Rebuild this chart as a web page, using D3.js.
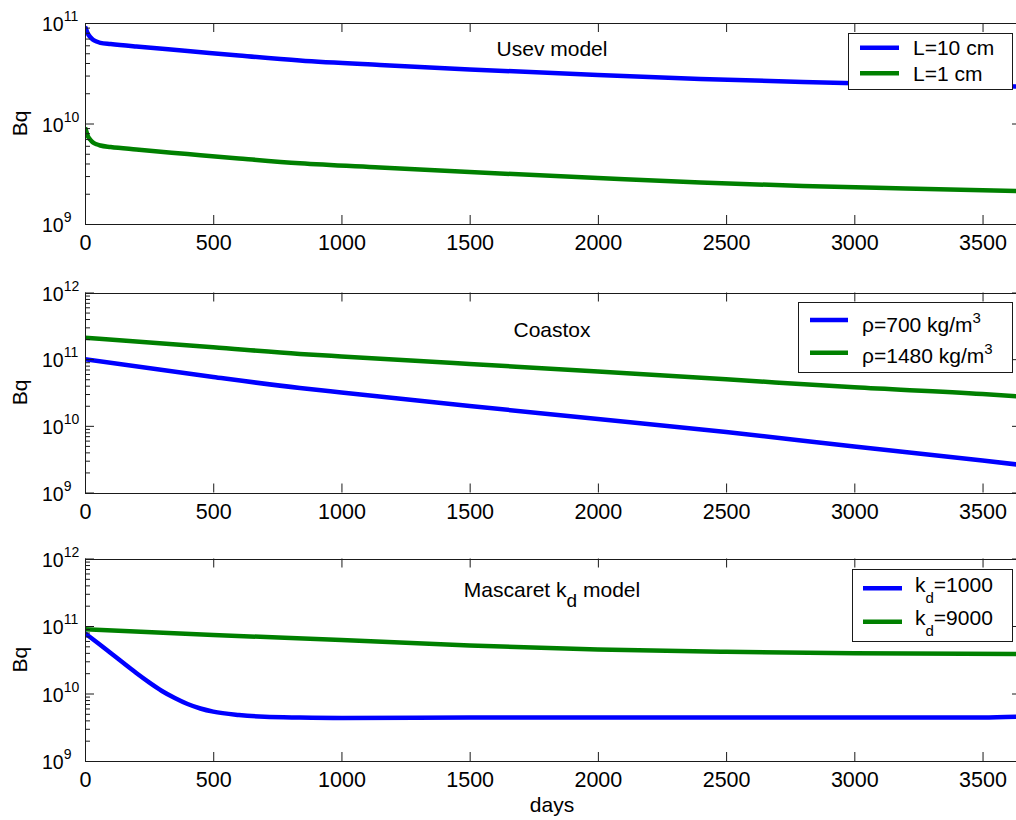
<!DOCTYPE html>
<html><head><meta charset="utf-8">
<script src="https://cdn.jsdelivr.net/npm/d3@7"></script>
<style>
html,body{margin:0;padding:0;background:#fff;overflow:hidden}
svg{display:block;font-family:Arial,"Liberation Sans",Helvetica,sans-serif}
</style></head><body>
<svg id="chart" width="1016" height="820"></svg>
<script>
// ---------------- data ----------------
const xTickValues = [0, 500, 1000, 1500, 2000, 2500, 3000, 3500];
const xLabel = "days";
const yLabel = "Bq";

// Panel 1: Usev model
const usevDays = [0, 5, 10, 20, 30, 45, 60, 100, 200, 400, 600, 838, 1150, 1500, 2000, 2400, 2800, 3200, 3650];
const usevL10 = [9.2e10, 8.6e10, 7.95e10, 7.26e10, 6.85e10, 6.54e10, 6.35e10, 6.18e10, 5.83e10, 5.27e10, 4.75e10, 4.24e10, 3.82e10, 3.45e10, 3.04e10, 2.77e10, 2.59e10, 2.45e10, 2.33e10];
const usevL1 = [9.1e9, 8.4e9, 7.6e9, 6.93e9, 6.5e9, 6.21e9, 6.04e9, 5.84e9, 5.51e9, 4.97e9, 4.49e9, 4.02e9, 3.65e9, 3.29e9, 2.87e9, 2.59e9, 2.39e9, 2.26e9, 2.13e9];
const usevLabels = ["L=10 cm", "L=1 cm"];

// Panel 2: Coastox
const coastoxDays = [0, 500, 838, 1000, 1500, 2000, 2500, 3000, 3500, 3650];
const coastoxRho700 = [1.0e11, 5.4e10, 3.69e10, 3.16e10, 1.98e10, 1.27e10, 8.08e9, 4.9e9, 3.02e9, 2.59e9];
const coastoxRho1480 = [2.1e11, 1.51e11, 1.2e11, 1.1e11, 8.46e10, 6.53e10, 4.99e10, 3.78e10, 3.0e10, 2.74e10];
const coastoxLabels = ["\u03c1=700 kg/m^3", "\u03c1=1480 kg/m^3"];

// Panel 3: Mascaret kd model
const mascaretDaysKd1000 = [0, 50, 100, 150, 200, 250, 300, 350, 400, 450, 500, 600, 700, 838, 1000, 1500, 2000, 2500, 3000, 3500, 3650];
const mascaretKd1000 = [7.8e10, 5.6e10, 3.98e10, 2.83e10, 2.01e10, 1.46e10, 1.09e10, 8.58e9, 6.99e9, 6.0e9, 5.38e9, 4.8e9, 4.52e9, 4.41e9, 4.35e9, 4.4e9, 4.42e9, 4.4e9, 4.42e9, 4.4e9, 4.55e9];
const mascaretDaysKd9000 = [0, 500, 1000, 1500, 2000, 2500, 3000, 3650];
const mascaretKd9000 = [8.94e10, 7.36e10, 6.2e10, 5.14e10, 4.49e10, 4.15e10, 3.94e10, 3.85e10];
const mascaretLabels = ["k_d=1000", "k_d=9000"];

const panelTitles = ["Usev model", "Coastox", "Mascaret k_d model"];
const seriesColors = ["#0000ff", "#008000"];

// ---------------- layout ----------------
const panels = [
  { top: 23, bottom: 224, yMax: 1e11, title: panelTitles[0], titleY: 56,
    series: [[usevDays, usevL10], [usevDays, usevL1]], labels: usevLabels,
    legend: { x0: 848, x1: 1012, y0: 33, y1: 89, lx0: 860, lx1: 899, ly: [47.7, 73.3], tx: 913, ty: [55, 81] } },
  { top: 292.5, bottom: 492.5, yMax: 1e12, title: panelTitles[1], titleY: 336.7,
    series: [[coastoxDays, coastoxRho700], [coastoxDays, coastoxRho1480]], labels: coastoxLabels,
    legend: { x0: 798, x1: 1012, y0: 302, y1: 372, lx0: 810, lx1: 848, ly: [320, 352.7], tx: 862, ty: [331.7, 363.3] } },
  { top: 558.5, bottom: 761, yMax: 1e12, title: panelTitles[2], titleY: 597,
    series: [[mascaretDaysKd1000, mascaretKd1000], [mascaretDaysKd9000, mascaretKd9000]], labels: mascaretLabels,
    legend: { x0: 852, x1: 1012, y0: 569, y1: 641, lx0: 863, lx1: 902, ly: [588.3, 621.7], tx: 915, ty: [592.3, 625] } }
];

const plotLeft = 85, plotRight = 1021;
const axisColor = "#1a1a1a";
const svg = d3.select("#chart");

// rich text: "^x" superscript, "_x" subscript (single char)
function richText(sel, str, size, smallSize, supShift, subShift) {
  let pendingShift = 0;
  let buf = "";
  const flush = () => {
    if (!buf) return;
    const t = sel.append("tspan").attr("font-size", size).text(buf);
    if (pendingShift) { t.attr("dy", pendingShift); pendingShift = 0; }
    buf = "";
  };
  for (let i = 0; i < str.length; i++) {
    const c = str[i];
    if ((c === "^" || c === "_") && i + 1 < str.length) {
      flush();
      const shift = c === "^" ? -supShift : subShift;
      sel.append("tspan").attr("font-size", smallSize).attr("dy", shift + pendingShift).text(str[i + 1]);
      pendingShift = -shift;
      i++;
    } else buf += c;
  }
  flush();
}

const x = d3.scaleLinear().domain([0, 3650]).range([plotLeft, plotRight]);

panels.forEach((p, pi) => {
  const y = d3.scaleLog().domain([1e9, p.yMax]).range([p.bottom, p.top]);
  const g = svg.append("g");
  const clipId = "clip" + pi;
  svg.append("clipPath").attr("id", clipId).append("rect")
    .attr("x", plotLeft).attr("y", p.top).attr("width", plotRight - plotLeft).attr("height", p.bottom - p.top);

  // background
  g.append("rect").attr("x", plotLeft).attr("y", p.top).attr("width", plotRight - plotLeft)
    .attr("height", p.bottom - p.top).attr("fill", "#fff");

  // title
  const tt = g.append("text").attr("x", 552).attr("y", p.titleY).attr("text-anchor", "middle").attr("fill", "#000");
  richText(tt, p.title, 21, 19, 8, 10);

  // lines
  const line = d3.line().x(d => x(d[0])).y(d => y(d[1])).curve(d3.curveMonotoneX);
  p.series.forEach((s, si) => {
    const pts = s[0].map((d, i) => [d, s[1][i]]);
    g.append("path").datum(pts).attr("d", line).attr("fill", "none")
      .attr("stroke", seriesColors[si]).attr("stroke-width", 4.5)
      .attr("stroke-linejoin", "round").attr("clip-path", `url(#${clipId})`);
  });

  // x axes (ticks inward)
  const xb = g.append("g").attr("transform", `translate(0,${p.bottom})`)
    .call(d3.axisBottom(x).tickValues(xTickValues).tickSizeInner(-9).tickSizeOuter(0).tickPadding(14).tickFormat(d3.format("d")));
  xb.select(".domain").remove();
  xb.selectAll(".tick line").attr("stroke", axisColor);
  xb.selectAll(".tick text").attr("font-size", 21.5).attr("fill", "#000")
    .attr("font-family", "Arial, 'Liberation Sans', sans-serif").attr("dy", "0.72em").attr("y", 11);
  const xt = g.append("g").attr("transform", `translate(0,${p.top})`)
    .call(d3.axisTop(x).tickValues(xTickValues).tickSizeInner(-9).tickSizeOuter(0).tickFormat(""));
  xt.select(".domain").remove();
  xt.selectAll(".tick line").attr("stroke", axisColor);

  // y axes: major and minor ticks (inward), left and right
  const majors = [], minors = [];
  for (let e = 9; Math.pow(10, e) <= p.yMax; e++) {
    majors.push(Math.pow(10, e));
    if (Math.pow(10, e) < p.yMax) for (let m = 2; m <= 9; m++) minors.push(m * Math.pow(10, e));
  }
  [[d3.axisLeft, plotLeft], [d3.axisRight, plotRight]].forEach(([ax, xp]) => {
    const gm = g.append("g").attr("transform", `translate(${xp},0)`)
      .call(ax(y).tickValues(minors).tickSizeInner(-5).tickSizeOuter(0).tickFormat(""));
    gm.select(".domain").remove();
    gm.selectAll(".tick line").attr("stroke", axisColor);
    const gM = g.append("g").attr("transform", `translate(${xp},0)`)
      .call(ax(y).tickValues(majors).tickSizeInner(-9).tickSizeOuter(0).tickFormat(""));
    gM.select(".domain").remove();
    gM.selectAll(".tick line").attr("stroke", axisColor);
  });

  // y tick labels 10^n
  majors.forEach(v => {
    const e = Math.round(Math.log10(v));
    const t = g.append("text").attr("x", 42).attr("y", y(v) + 8).attr("fill", "#000");
    t.append("tspan").attr("font-size", 19.5).text("10");
    t.append("tspan").attr("font-size", 14).attr("dy", -10).text(String(e));
  });

  // box
  g.append("rect").attr("x", plotLeft + 0.5).attr("y", Math.round(p.top) + 0.5)
    .attr("width", plotRight - plotLeft).attr("height", Math.round(p.bottom) - Math.round(p.top))
    .attr("fill", "none").attr("stroke", axisColor).attr("stroke-width", 1);

  // y label
  g.append("text").attr("transform", `translate(27,${(p.top + p.bottom) / 2}) rotate(-90)`)
    .attr("text-anchor", "middle").attr("font-size", 21).attr("fill", "#000").text(yLabel);

  // legend
  const L = p.legend;
  g.append("rect").attr("x", L.x0 + 0.5).attr("y", L.y0 + 0.5).attr("width", L.x1 - L.x0).attr("height", L.y1 - L.y0)
    .attr("fill", "#fff").attr("stroke", axisColor).attr("stroke-width", 1);
  p.labels.forEach((lab, i) => {
    g.append("line").attr("x1", L.lx0).attr("x2", L.lx1).attr("y1", L.ly[i]).attr("y2", L.ly[i])
      .attr("stroke", seriesColors[i]).attr("stroke-width", 4.5);
    const t = g.append("text").attr("x", L.tx).attr("y", L.ty[i]).attr("fill", "#000");
    richText(t, lab, 21, 15, 9, 10.5);
  });
});

// x label
svg.append("text").attr("x", 552).attr("y", 812).attr("text-anchor", "middle")
  .attr("font-size", 21).attr("fill", "#000").text(xLabel);
</script>
</body></html>
